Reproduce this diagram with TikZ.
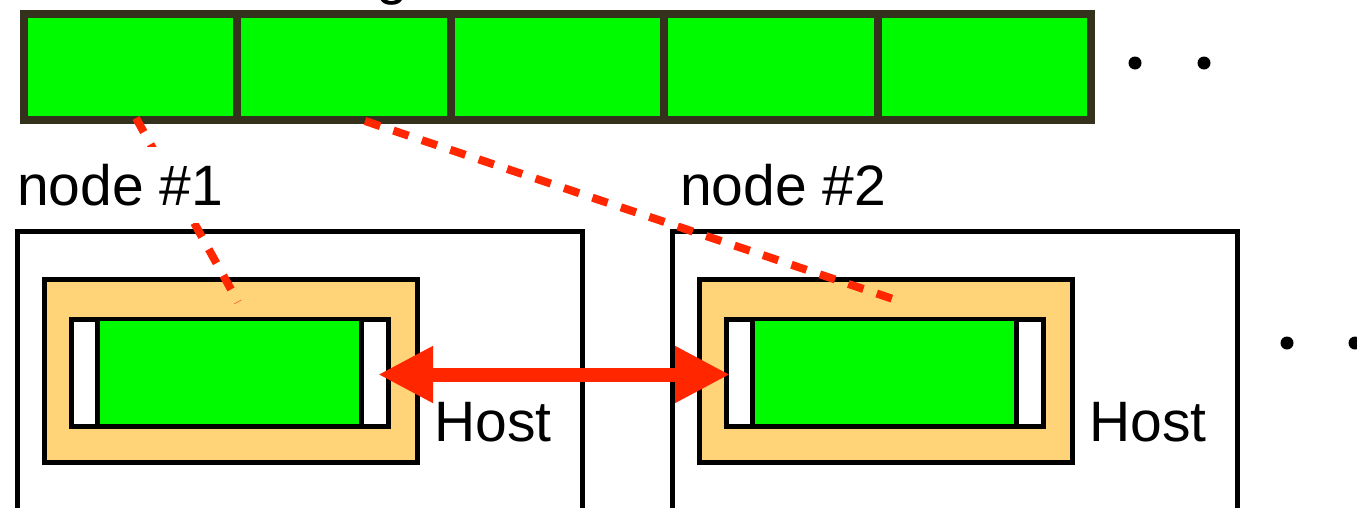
\documentclass[tikz,border=0pt]{standalone}
\usepackage{fontspec}
\newfontfamily\labfont{Liberation Sans}
\usetikzlibrary{arrows.meta}
\definecolor{cellgreen}{RGB}{0,250,0}
\definecolor{vmtan}{RGB}{255,212,121}
\definecolor{linkred}{RGB}{255,38,0}
\definecolor{cellframe}{RGB}{52,50,29}
\tikzset{
  box/.style={draw=black, line width=5pt, rectangle, inner sep=0pt, anchor=north west},
  cellbox/.style={draw=cellframe, fill=cellgreen, line width=8pt, rectangle, inner sep=0pt,
                  anchor=north west, minimum width=213.4pt, minimum height=106pt},
  hostbox/.style={box, minimum width=565.5pt, minimum height=301.5pt},
  vmbox/.style={box, fill=vmtan, minimum width=373.5pt, minimum height=183pt},
  bufbox/.style={box, fill=white, minimum width=317pt, minimum height=107pt},
  databox/.style={box, line width=4.5pt, fill=cellgreen, minimum width=264pt, minimum height=107pt},
  lab/.style={font=\labfont\fontsize{57}{60}\selectfont, inner xsep=4pt, inner ysep=17pt, anchor=base west},
  maplink/.style={draw=linkred, line width=8pt, dash pattern=on 16pt off 14pt},
  xfer/.style={draw=linkred, line width=14pt,
               {Triangle[length=55pt,width=53pt]}-{Triangle[length=55pt,width=53pt]}},
  dot/.style={fill=black, circle, inner sep=0pt, minimum size=13pt}
}
\begin{document}
\begin{tikzpicture}[x=1pt, y=-1pt]
  \clip (0,0) rectangle (1357,507);
  \fill[white] (0,0) rectangle (1357,507);

  % heading above the array (only its lowest stroke lies inside the frame)
  \node[font=\labfont\fontsize{57}{60}\selectfont, anchor=base, inner sep=0pt] (heading) at (392,-7) {g};

  % global array of five cells
  \foreach \i in {1,...,5} {
    \node[cellbox] (cell\i) at ({20+213.4*(\i-1)},10) {};
  }
  \node[dot] (tdot1) at (1135,63) {};
  \node[dot] (tdot2) at (1204,63) {};

  % node #1
  \node[hostbox] (host1) at (14.5,228.5) {};
  \node[vmbox]   (vm1)   at (41.5,277) {};
  \node[bufbox]  (buf1)  at (68.5,316.5) {};
  \node[databox] (data1) at (95,316.5) {};

  % node #2
  \node[hostbox] (host2) at (669.5,228.5) {};
  \node[vmbox]   (vm2)   at (696.5,277) {};
  \node[bufbox]  (buf2)  at (723.5,316.5) {};
  \node[databox] (data2) at (750,316.5) {};

  \node[dot] (rdot1) at (1287,343) {};
  \node[dot] (rdot2) at (1355,343) {};

  % mapping of array cells onto the nodes
  \coordinate (src1) at (136,118);
  \coordinate (dst1) at (238,302);
  \coordinate (src2) at (365,121);
  \coordinate (dst2) at (896,300);
  \draw[maplink] (src1) -- (dst1);
  \draw[maplink] (src2) -- (dst2);

  % labels
  \node[lab, fill=white] (name1) at (13,205) {node \#1};
  \node[lab, fill=white] (name2) at (676,205) {node \#2};
  \node[lab] (hostlab1) at (430,441) {Host};
  \node[lab] (hostlab2) at (1085,441) {Host};

  % transfer between the two nodes
  \coordinate (xa) at (378,374.5);
  \coordinate (xb) at (730,374.5);
  \draw[xfer] (xa) -- (xb);
\end{tikzpicture}
\end{document}
